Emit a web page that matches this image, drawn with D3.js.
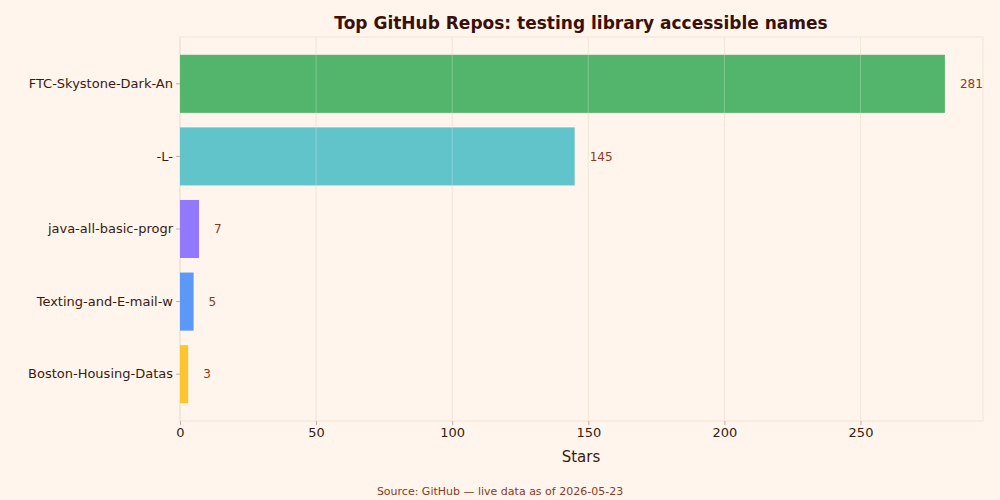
<!DOCTYPE html>
<html><head><meta charset="utf-8">
<script src="https://cdn.jsdelivr.net/npm/d3@7"></script>
<style>body{margin:0;background:#fff5ec;font-family:"DejaVu Sans",sans-serif;}</style>
</head><body><svg id="c" width="1000" height="500"></svg>
<script>
const repos = ["FTC-Skystone-Dark-An","-L-","java-all-basic-progr","Texting-and-E-mail-w","Boston-Housing-Datas"];
const stars = [281,145,7,5,3];
const colors = ["#52b56b","#62c4cb","#9178fc","#5c98f5","#fbc52f"];
const xTicks = [0,50,100,150,200,250];

const svg = d3.select("#c");
const m = {l:180,r:983,t:37,b:421};
const x = d3.scaleLinear().domain([0,295]).range([m.l,m.r]);
const y = d3.scaleBand().domain(repos).range([m.t,m.b]).paddingInner(0.2).paddingOuter(0.245);

svg.append("rect").attr("width",1000).attr("height",500).attr("fill","#fff5ec");
svg.append("rect").attr("x",m.l).attr("y",m.t).attr("width",m.r-m.l).attr("height",m.b-m.t)
  .attr("fill","none").attr("stroke","#f3e3d3");
svg.append("g").selectAll("line").data(xTicks).join("line")
  .attr("x1",d=>x(d)).attr("x2",d=>x(d)).attr("y1",m.t).attr("y2",m.b)
  .attr("stroke","#f0e0cf").attr("stroke-width",1);

svg.append("g").selectAll("rect").data(repos).join("rect")
  .attr("x",x(0)).attr("y",d=>y(d)).attr("height",y.bandwidth())
  .attr("width",(d,i)=>x(stars[i])-x(0)).attr("fill",(d,i)=>colors[i]);
// gridlines over bars faintly
svg.append("g").selectAll("line").data(xTicks.slice(1)).join("line")
  .attr("x1",d=>x(d)).attr("x2",d=>x(d)).attr("y1",m.t).attr("y2",m.b)
  .attr("stroke","#ffffff").attr("stroke-opacity",0.25);

svg.append("g").selectAll("text").data(repos).join("text")
  .attr("x",(d,i)=>x(stars[i])+15).attr("y",d=>y(d)+y.bandwidth()/2).attr("dy","0.35em")
  .attr("font-size",12).attr("fill","#8b3a1a").text((d,i)=>stars[i]);

const xa = svg.append("g").attr("transform",`translate(0,${m.b})`)
  .call(d3.axisBottom(x).tickValues(xTicks).tickSize(4));
xa.selectAll("text").attr("font-size",13).attr("fill","#3a1a10").attr("font-family","DejaVu Sans");
xa.selectAll("line,path").attr("stroke","#caa");
xa.select(".domain").remove();
const ya = svg.append("g").attr("transform",`translate(${m.l},0)`)
  .call(d3.axisLeft(y).tickSize(4));
ya.selectAll("text").attr("font-size",13).attr("fill","#3a1a10").attr("font-family","DejaVu Sans");
ya.selectAll("line,path").attr("stroke","#caa");
ya.select(".domain").remove();

svg.append("text").attr("x",581).attr("y",462).attr("text-anchor","middle")
  .attr("font-size",15).attr("fill","#3a1a10").text("Stars");
svg.append("text").attr("x",581).attr("y",29).attr("text-anchor","middle")
  .attr("font-size",17).attr("font-weight","bold").attr("fill","#3a1008")
  .text("Top GitHub Repos: testing library accessible names");
svg.append("text").attr("x",500).attr("y",495).attr("text-anchor","middle")
  .attr("font-size",11).attr("fill","#8b3a1a").text("Source: GitHub — live data as of 2026-05-23");
</script></body></html>
